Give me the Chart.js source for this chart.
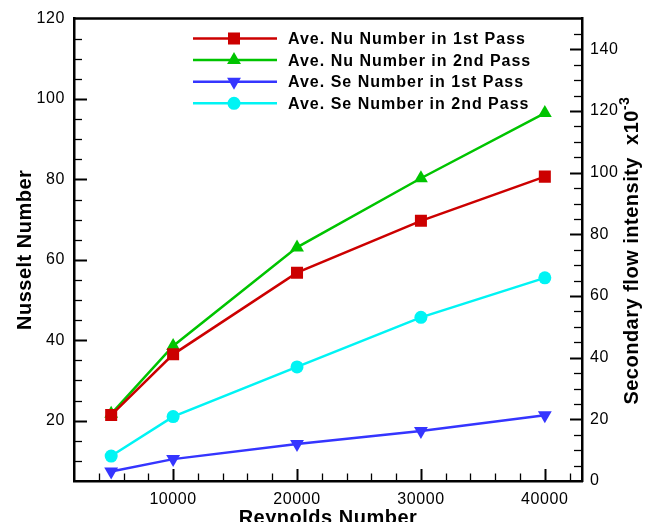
<!DOCTYPE html>
<html><head><meta charset="utf-8">
<script src="https://cdn.jsdelivr.net/npm/chart.js@4/dist/chart.umd.min.js"></script>
<style>html,body{margin:0;padding:0;background:#fff;overflow:hidden}#wrap{width:665px;height:522px}</style>
</head><body><div id="wrap"><canvas id="c" width="665" height="522"></canvas></div>
<script>
// ---- data ----
const reynolds = [5000, 10000, 20000, 30000, 40000];
const nu1st = [21.4, 36.5, 56.8, 69.7, 80.7];
const nu2nd = [21.7, 38.6, 63.1, 80.3, 96.5];
const se1st = [3.1, 7.1, 12.0, 16.2, 21.3];
const se2nd = [8.1, 20.9, 37.0, 53.1, 65.9];
const seriesLabels = ['Ave. Nu Number in 1st Pass','Ave. Nu Number in 2nd Pass','Ave. Se Number in 1st Pass','Ave. Se Number in 2nd Pass'];
const xTicks = [10000, 20000, 30000, 40000];
const leftTicks = [20, 40, 60, 80, 100, 120];
const rightTicks = [0, 20, 40, 60, 80, 100, 120, 140];
const xTitle = 'Reynolds Number';
const leftTitle = 'Nusselt Number';
const rightTitle = 'Secondary flow intensity  x10';
const rightTitleSup = '-3';

const FONT = '"Liberation Sans", Arial, Helvetica, sans-serif';
const pts = arr => reynolds.map((x, i) => ({x: x, y: arr[i]}));

const styles = [
  {c:'#cc0000', ps:'rect', r:8.5, rot:0, axis:'yL', d:nu1st},
  {c:'#00c400', ps:'triangle', r:8, rot:0, axis:'yL', d:nu2nd},
  {c:'#3535ff', ps:'triangle', r:8, rot:180, axis:'yR', d:se1st},
  {c:'#00f4f4', ps:'circle', r:6.5, rot:0, axis:'yR', d:se2nd}
];

const datasets = styles.map((s, i) => ({
  label: seriesLabels[i], data: pts(s.d), yAxisID: s.axis, xAxisID: 'x',
  borderColor: s.c, backgroundColor: s.c, borderWidth: 2.5,
  pointStyle: s.ps, pointRadius: s.r, pointRotation: s.rot,
  pointBackgroundColor: s.c, pointBorderColor: s.c, pointBorderWidth: 0,
  tension: 0, fill: false
}));

const tickFont = {family: FONT, size: 16};

const decor = {
  id: 'decor',
  beforeDraw(chart) { chart.ctx.letterSpacing = '0.6px'; },
  beforeDatasetsDraw(chart) {
    const ctx = chart.ctx, a = chart.chartArea;
    const sx = chart.scales.x, yl = chart.scales.yL, yr = chart.scales.yR;
    ctx.save();
    ctx.strokeStyle = '#000';
    for (let v = 10; v < 120; v += 5) {
      const p = Math.round(yl.getPixelForValue(v)) + 0.5;
      const major = v % 20 === 0;
      ctx.lineWidth = major ? 2 : 1.3;
      ctx.beginPath(); ctx.moveTo(a.left, p); ctx.lineTo(a.left + (major ? 13 : 8), p); ctx.stroke();
    }
    for (let v = 5; v < 150; v += 5) {
      const p = Math.round(yr.getPixelForValue(v)) + 0.5;
      const major = v % 20 === 0;
      ctx.lineWidth = major ? 2 : 1.3;
      ctx.beginPath(); ctx.moveTo(a.right, p); ctx.lineTo(a.right - (major ? 12 : 8), p); ctx.stroke();
    }
    for (let v = 4000; v < 43000; v += 2000) {
      const p = Math.round(sx.getPixelForValue(v)) + 0.5;
      const major = v % 10000 === 0;
      ctx.lineWidth = major ? 2 : 1.3;
      ctx.beginPath(); ctx.moveTo(p, a.bottom); ctx.lineTo(p, a.bottom - (major ? 12 : 7.5)); ctx.stroke();
    }
    ctx.lineWidth = 2.5;
    ctx.beginPath(); ctx.moveTo(a.left - 1, a.top); ctx.lineTo(a.right + 1, a.top); ctx.stroke();
    ctx.restore();
  },
  afterDraw(chart) {
    const ctx = chart.ctx, a = chart.chartArea;
    ctx.save();
    ctx.fillStyle = '#000';
    ctx.font = 'bold 20px ' + FONT;
    ctx.letterSpacing = '0.5px';
    ctx.textAlign = 'center'; ctx.textBaseline = 'alphabetic';
    ctx.fillText(xTitle, (a.left + a.right) / 2, 524);
    ctx.save();
    ctx.translate(25, (a.top + a.bottom) / 2); ctx.rotate(-Math.PI / 2);
    ctx.textBaseline = 'middle';
    ctx.fillText(leftTitle, 0, 0);
    ctx.restore();
    ctx.save();
    ctx.translate(632, (a.top + a.bottom) / 2 + 1); ctx.rotate(-Math.PI / 2);
    ctx.textBaseline = 'middle'; ctx.textAlign = 'left';
    const w1 = ctx.measureText(rightTitle).width;
    ctx.font = 'bold 14px ' + FONT;
    ctx.letterSpacing = '0.3px';
    const w2 = ctx.measureText(rightTitleSup).width;
    const start = -(w1 + w2) / 2;
    ctx.font = 'bold 20px ' + FONT; ctx.letterSpacing = '0.5px';
    ctx.fillText(rightTitle, start, 0);
    ctx.font = 'bold 14px ' + FONT; ctx.letterSpacing = '0.3px';
    ctx.fillText(rightTitleSup, start + w1, -7);
    ctx.restore();
    ctx.font = 'bold 16px ' + FONT;
    ctx.letterSpacing = '1px';
    ctx.textAlign = 'left'; ctx.textBaseline = 'middle';
    chart.data.datasets.forEach((ds, i) => {
      const y = 38.5 + i * 21.6;
      ctx.strokeStyle = ds.borderColor; ctx.lineWidth = 2.5;
      ctx.beginPath(); ctx.moveTo(193, y); ctx.lineTo(277, y); ctx.stroke();
      ctx.fillStyle = ds.pointBackgroundColor;
      Chart.helpers.drawPoint(ctx, {pointStyle: ds.pointStyle, radius: ds.pointRadius, rotation: ds.pointRotation, borderWidth: 0}, 234, y);
      ctx.fillStyle = '#000';
      ctx.fillText(ds.label, 288, y + 1);
    });
    ctx.restore();
  }
};

new Chart(document.getElementById('c'), {
  type: 'line',
  data: {datasets},
  options: {
    responsive: false, animation: false, devicePixelRatio: 1,
    layout: {padding: {top: 17, left: 0, right: 0, bottom: 0}},
    plugins: {legend: {display: false}, tooltip: {enabled: false}},
    scales: {
      x: {
        type: 'linear', position: 'bottom', min: 2000, max: 43000,
        grid: {display: false, drawTicks: false},
        border: {display: true, color: '#000', width: 2.5},
        ticks: {font: tickFont, color: '#000', padding: 9, maxRotation: 0, callback: v => String(v)},
        afterBuildTicks: s => { s.ticks = xTicks.map(v => ({value: v})); },
        afterFit: s => { s.height = 41; }
      },
      yL: {
        type: 'linear', position: 'left', min: 5, max: 120,
        grid: {display: false, drawTicks: false},
        border: {display: true, color: '#000', width: 2.5},
        ticks: {font: tickFont, color: '#000', padding: 9, callback: v => String(v)},
        afterBuildTicks: s => { s.ticks = leftTicks.map(v => ({value: v})); },
        afterFit: s => { s.width = 74; }
      },
      yR: {
        type: 'linear', position: 'right', min: 0, max: 150,
        grid: {display: false, drawTicks: false},
        border: {display: true, color: '#000', width: 2.5},
        ticks: {font: tickFont, color: '#000', padding: 8, callback: v => String(v)},
        afterBuildTicks: s => { s.ticks = rightTicks.map(v => ({value: v})); },
        afterFit: s => { s.width = 83; }
      }
    }
  },
  plugins: [decor]
});
</script>
</body></html>
